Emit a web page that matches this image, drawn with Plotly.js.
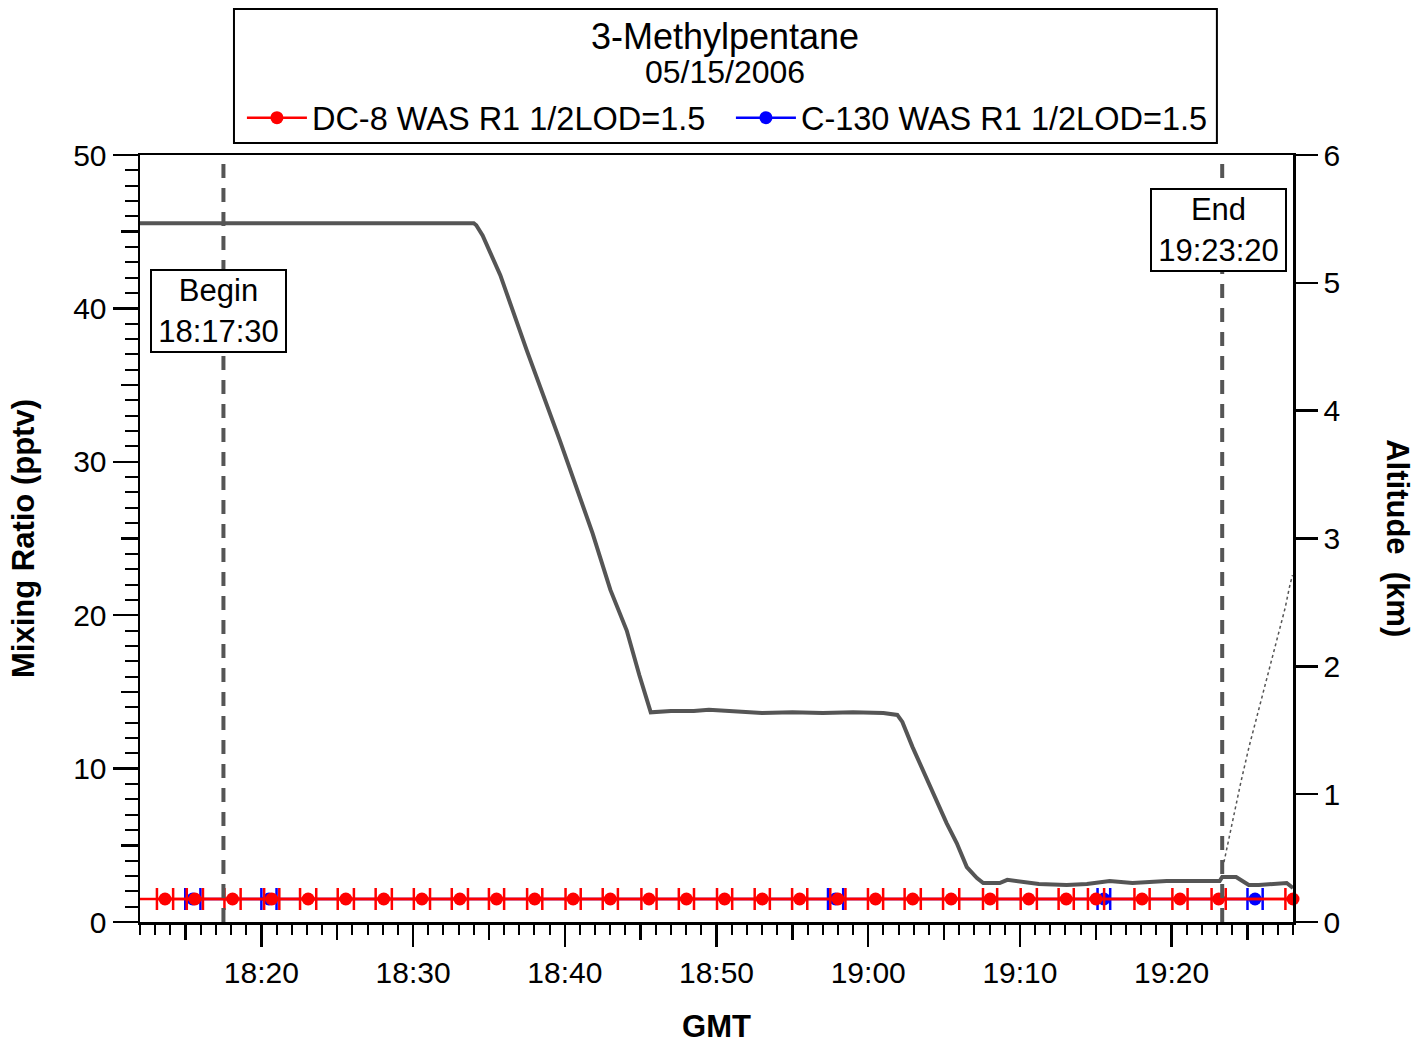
<!DOCTYPE html>
<html><head><meta charset="utf-8">
<script src="https://cdn.plot.ly/plotly-3.0.1.min.js"></script>
<style>body{margin:0;background:#fff}#chart{width:1427px;height:1045px}</style>
</head><body><div id="chart"></div>
<script>
// DC-8 altitude (km), right axis
const altTimes = ['18:12:00','18:20:00','18:28:00','18:34:00','18:34:10','18:34:35','18:35:45','18:37:30','18:39:40','18:41:50','18:43:00','18:44:05','18:44:55','18:45:25','18:45:40','18:47:00','18:48:30','18:49:30','18:51:00','18:53:00','18:55:00','18:57:00','18:59:00','19:01:00','19:01:55','19:02:15','19:02:55','19:03:35','19:04:15','19:05:10','19:05:50','19:06:30','19:07:10','19:07:35','19:08:40','19:09:10','19:11:15','19:13:05','19:14:25','19:15:55','19:17:25','19:19:40','19:23:10','19:23:20','19:24:15','19:25:05','19:25:45','19:27:05','19:27:35','19:28:00'];
const altKm = [5.466,5.466,5.465,5.466,5.45,5.37,5.06,4.47,3.77,3.04,2.60,2.28,1.93,1.74,1.64,1.65,1.65,1.66,1.65,1.635,1.64,1.635,1.64,1.635,1.62,1.565,1.37,1.19,1.01,0.774,0.618,0.43,0.344,0.305,0.305,0.33,0.297,0.289,0.297,0.321,0.305,0.321,0.32,0.352,0.352,0.289,0.289,0.297,0.305,0.266];

// second altitude track (dotted)
const altDotTimes = ['19:23:22','19:23:40','19:24:00','19:24:33','19:25:06','19:25:47','19:26:07','19:26:38','19:27:06','19:27:29','19:27:46','19:27:58'];
const altDotKm = [0.422,0.587,0.798,1.087,1.369,1.682,1.815,2.05,2.284,2.457,2.62,2.714];

// DC-8 WAS samples (pptv), half sample duration in seconds
const dc8Times = ['18:13:39','18:15:37','18:18:06','18:20:41','18:23:05','18:25:34','18:28:04','18:30:35','18:33:05','18:35:30','18:38:01','18:40:33','18:43:00','18:45:33','18:48:01','18:50:32','18:53:01','18:55:29','18:58:00','19:00:29','19:02:56','19:05:28','19:08:02','19:10:35','19:13:03','19:15:01','19:18:03','19:20:33','19:23:06','19:28:00'];
const dc8Values = [1.5,1.5,1.5,1.5,1.5,1.5,1.5,1.5,1.5,1.5,1.5,1.5,1.5,1.5,1.5,1.5,1.5,1.5,1.5,1.5,1.5,1.5,1.5,1.5,1.5,1.5,1.5,1.5,1.5,1.5];
const dc8HalfSec = [32,32,32,30,32,32,32,32,32,30,30,30,30,30,30,30,30,30,30,30,32,32,28,32,30,32,30,30,28,30];
const dc8PrevTime = '18:11:05';
const dc8PrevValue = 1.5;

// C-130 WAS samples (pptv)
const c130Times = ['18:15:29','18:20:30','18:57:51','19:15:32','19:25:30'];
const c130Values = [1.5,1.5,1.5,1.5,1.5];
const c130HalfSec = [30,30,30,25,30];

const markerTimes = ['18:17:30','19:23:20'];
const markerLabels = ['Begin','End'];

const xTickLabels = ['18:20','18:30','18:40','18:50','19:00','19:10','19:20'];
const xStart = '18:12:00';
const xEnd = '19:28:00';

const xTitle = 'GMT';
const yTitle = 'Mixing Ratio (pptv)';
const y2Title = 'Altitude  (km)';
const chartTitle = '3-Methylpentane';
const chartDate = '05/15/2006';
const dc8Name = 'DC-8 WAS R1 1/2LOD=1.5';
const c130Name = 'C-130 WAS R1 1/2LOD=1.5';

// minutes after 18:00 GMT
function toMin(t) { const p = t.split(':').map(Number); return (p[0] - 18) * 60 + p[1] + (p[2] || 0) / 60; }
const M = a => a.map(toMin);
const secToMin = a => a.map(s => s / 60);
const FONT = 'Liberation Sans, Arial, sans-serif';
const xRange = [toMin(xStart), toMin(xEnd)];

const traces = [
  {x: M(altTimes), y: altKm, yaxis: 'y2', mode: 'lines', line: {color: '#555555', width: 4}, showlegend: false, hoverinfo: 'skip'},
  {x: M(altDotTimes), y: altDotKm, yaxis: 'y2', mode: 'lines', line: {color: '#555555', width: 1.5, dash: 'dot'}, showlegend: false, hoverinfo: 'skip'},
  {x: M(c130Times), y: c130Values, name: c130Name, mode: 'lines+markers', cliponaxis: false,
   line: {color: '#0000ff', width: 2.5}, marker: {color: '#0000ff', size: 13},
   error_x: {type: 'data', array: secToMin(c130HalfSec), color: '#0000ff', thickness: 2.5, width: 11}},
  {x: M([dc8PrevTime].concat(dc8Times)), y: [dc8PrevValue].concat(dc8Values), mode: 'lines',
   line: {color: '#ff0000', width: 2.5}, showlegend: false, hoverinfo: 'skip'},
  {x: M(dc8Times), y: dc8Values, name: dc8Name, mode: 'lines+markers', cliponaxis: false,
   line: {color: '#ff0000', width: 2.5}, marker: {color: '#ff0000', size: 13},
   error_x: {type: 'data', array: secToMin(dc8HalfSec), color: '#ff0000', thickness: 2.5, width: 11}},
  // helper trace so the mid-level tick axes are drawn
  {x: M(dc8Times), y: dc8Values, xaxis: 'x2', yaxis: 'y3', mode: 'none', showlegend: false, hoverinfo: 'skip'}
];

const shapes = markerTimes.map(t => ({type: 'line', xref: 'x', yref: 'paper', x0: toMin(t), x1: toMin(t), y0: 0, y1: 1,
  line: {color: '#555555', width: 4, dash: '14px,10px'}}));
// frame around title + legend
shapes.push({type: 'rect', xref: 'paper', yref: 'paper', x0: 0.0815, x1: 0.934, y0: 1.0156, y1: 1.1903,
  line: {color: '#000', width: 2}, fillcolor: 'rgba(0,0,0,0)', layer: 'below'});

const annPos = [{x: 0.0677, y: 0.797}, {x: 0.935, y: 0.902}];
const annotations = markerTimes.map((t, i) => ({xref: 'paper', yref: 'paper', x: annPos[i].x, y: annPos[i].y,
  xanchor: 'center', yanchor: 'middle',
  text: markerLabels[i] + '<br>' + t, showarrow: false, font: {family: FONT, size: 31, color: '#000'},
  bgcolor: '#fff', bordercolor: '#000', borderwidth: 2, borderpad: 0, width: 133, height: 80}));
annotations.push({xref: 'paper', yref: 'paper', x: 1.090, y: 0.5007, xanchor: 'center', yanchor: 'middle',
  text: '<b>' + y2Title + '</b>', textangle: 90, showarrow: false, font: {family: FONT, size: 31, color: '#000'}});
annotations.push({xref: 'paper', yref: 'paper', x: 0.5074, y: 1.1082, xanchor: 'center', yanchor: 'middle',
  text: chartDate, showarrow: false, font: {family: FONT, size: 32, color: '#000'}});

const tickFont = {family: FONT, size: 30, color: '#000'};
const layout = {
  width: 1427, height: 1045,
  margin: {l: 140, r: 134, t: 155, b: 123},
  paper_bgcolor: '#fff', plot_bgcolor: '#fff',
  font: {family: FONT, color: '#000'},
  title: {text: chartTitle, xref: 'paper', x: 0.5074, xanchor: 'center', yref: 'container', y: 1 - 36 / 1045, yanchor: 'middle',
    font: {family: FONT, size: 36, color: '#000'}},
  showlegend: true,
  legend: {orientation: 'h', x: 0.0884, xanchor: 'left', y: 1.0482, yanchor: 'middle',
    borderwidth: 0, bgcolor: 'rgba(0,0,0,0)', itemwidth: 60, entrywidth: 414,
    font: {family: FONT, size: 32.5, color: '#000'}, traceorder: 'reversed'},
  xaxis: {range: xRange, tickmode: 'array', tickvals: M(xTickLabels), ticktext: xTickLabels,
    ticks: 'outside', ticklen: 22, tickwidth: 2.5, tickcolor: '#000', showline: true, linewidth: 2.5, linecolor: '#000', mirror: true,
    showgrid: false, zeroline: false, tickfont: tickFont,
    minor: {tickmode: 'linear', tick0: 0, dtick: 1, ticks: 'outside', ticklen: 10, tickwidth: 2, tickcolor: '#000', showgrid: false},
    title: {text: '<b>' + xTitle + '</b>', font: {family: FONT, size: 31, color: '#000'}, standoff: 28}},
  xaxis2: {overlaying: 'x', anchor: 'y', range: xRange, tick0: 0, dtick: 5,
    ticks: 'outside', ticklen: 17, tickwidth: 2.5, tickcolor: '#000', showticklabels: false, showline: false, showgrid: false, zeroline: false},
  yaxis: {range: [0, 50], dtick: 10, ticks: 'outside', ticklen: 25, tickwidth: 2.5, tickcolor: '#000', showline: true, linewidth: 2.5,
    linecolor: '#000', showgrid: false, zeroline: false, tickfont: tickFont,
    minor: {dtick: 1, ticks: 'outside', ticklen: 13, tickwidth: 2, tickcolor: '#000', showgrid: false},
    title: {text: '<b>' + yTitle + '</b>', font: {family: FONT, size: 31, color: '#000'}, standoff: 30}},
  yaxis3: {overlaying: 'y', anchor: 'x', range: [0, 50], dtick: 5, ticks: 'outside', ticklen: 18, tickwidth: 2.5, tickcolor: '#000',
    showticklabels: false, showline: false, showgrid: false, zeroline: false},
  yaxis2: {overlaying: 'y', side: 'right', anchor: 'x', range: [0, 6], dtick: 1, ticks: 'outside', ticklen: 22, tickwidth: 2.5,
    tickcolor: '#000', showline: true, linewidth: 2.5, linecolor: '#000', showgrid: false, zeroline: false, tickfont: tickFont},
  shapes: shapes,
  annotations: annotations
};

Plotly.newPlot('chart', traces, layout, {staticPlot: true});
</script>
</body></html>
